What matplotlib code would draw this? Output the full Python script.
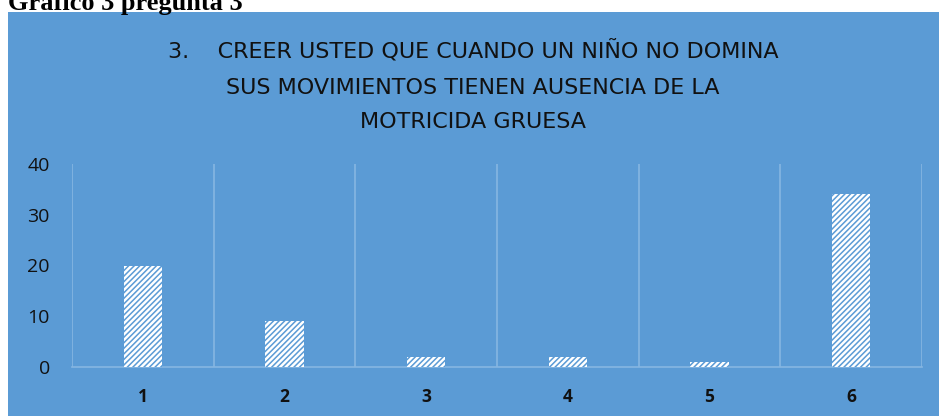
import matplotlib
matplotlib.use("Agg")
import matplotlib.pyplot as plt
from matplotlib.patches import Rectangle

categories = ["1", "2", "3", "4", "5", "6"]
values = [20, 9, 2, 2, 1, 34]
yticks = [0, 10, 20, 30, 40]
title_lines = ["3.    CREER USTED QUE CUANDO UN NIÑO NO DOMINA",
               "SUS MOVIMIENTOS TIENEN AUSENCIA DE LA",
               "MOTRICIDA GRUESA"]
caption = "Gráfico 3 pregunta 3"

W, H = 939, 416
BLUE = "#5B9BD5"
GRID = "#86B6E2"

fig = plt.figure(figsize=(W / 100, H / 100), dpi=100)
fig.patch.set_facecolor("white")
fig.patches.append(Rectangle((8 / W, 0), 1 - 8 / W, 1 - 12 / H, transform=fig.transFigure,
                             facecolor=BLUE, edgecolor="none", zorder=-5))

fig.text(8 / W, 1 - 10 / H, caption, fontsize=19, fontweight="bold",
         family="Liberation Serif", va="baseline", ha="left", color="black")

ys = [58, 94, 128]
for line, yb in zip(title_lines, ys):
    fig.text(473 / W, 1 - yb / H, line, fontsize=16, family="DejaVu Sans",
             va="baseline", ha="center", color="#111111")

plt.rcParams["hatch.linewidth"] = 1.1
ax = fig.add_axes([72 / W, 1 - 367 / H, 850 / W, 203 / H], zorder=2)
ax.set_facecolor("none")
x = list(range(len(categories)))
ax.bar(x, values, width=0.27, facecolor="white", edgecolor=BLUE, linewidth=0,
       hatch="//////", zorder=3)
ax.set_xlim(-0.5, len(categories) - 0.5)
ax.set_ylim(0, 40)
ax.set_yticks(yticks)
ax.set_yticklabels([str(t) for t in yticks], fontsize=14, family="Open Sans", color="#111111")
ax.set_xticks(x)
ax.set_xticklabels(categories, fontsize=12.5, fontweight="bold", family="Open Sans", color="#111111")
ax.tick_params(axis="both", length=0)
ax.tick_params(axis="y", pad=16)
ax.tick_params(axis="x", pad=15)
for b in [i - 0.5 for i in range(len(categories) + 1)]:
    ax.axvline(b, color=GRID, linewidth=1.2, zorder=1)
for s in ["top", "left", "right"]:
    ax.spines[s].set_visible(False)
ax.spines["bottom"].set_color(GRID)
ax.spines["bottom"].set_linewidth(1.2)

fig.savefig("out.png", dpi=100, facecolor="white")
